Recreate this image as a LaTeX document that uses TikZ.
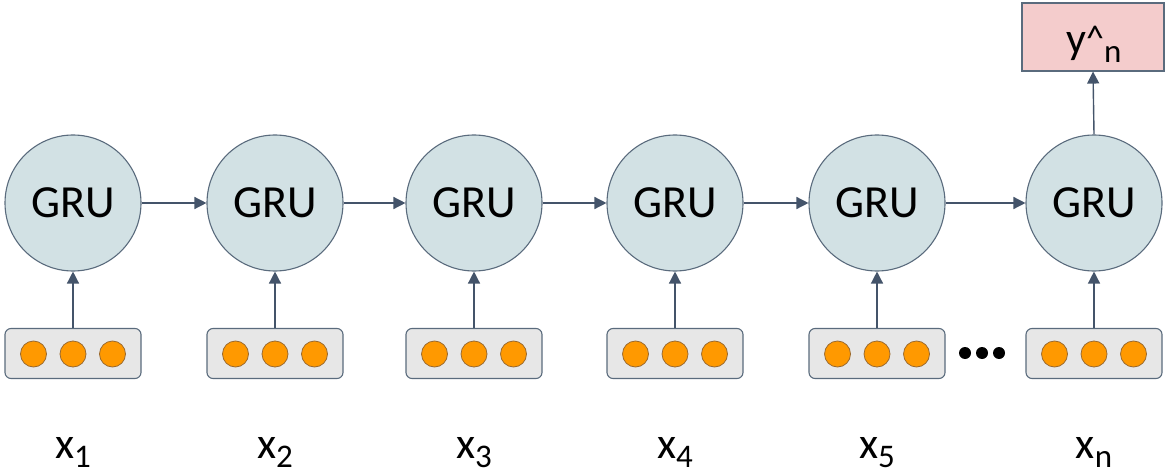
\documentclass[tikz,border=0pt]{standalone}
\usepackage{fontspec}
\setmainfont{Carlito}
\usetikzlibrary{arrows.meta}
\definecolor{edgec}{HTML}{5A6B7D}
\definecolor{arrc}{HTML}{44546A}
\definecolor{grufill}{HTML}{D2E1E4}
\definecolor{boxfill}{HTML}{E7E7E7}
\definecolor{dotfill}{HTML}{FF9900}
\definecolor{dotedge}{HTML}{9A6A30}
\definecolor{outfill}{HTML}{F4CCCC}
\tikzset{
  gru/.style={circle, draw=edgec, line width=1.1pt, fill=grufill, minimum size=136pt, inner sep=0pt, font=\fontsize{46}{46}\selectfont},
  inbox/.style={rectangle, rounded corners=6pt, draw=edgec, line width=1.1pt, fill=boxfill, minimum width=136pt, minimum height=50pt, inner sep=0pt},
  odot/.style={circle, draw=dotedge, line width=0.8pt, fill=dotfill, minimum size=26pt, inner sep=0pt},
  edot/.style={circle, fill=black, minimum size=12pt, inner sep=0pt},
  outbox/.style={rectangle, draw=edgec, line width=1.1pt, fill=outfill, minimum width=142pt, minimum height=68pt, inner sep=0pt},
  arr/.style={draw=arrc, line width=1.4pt, -{Triangle[length=12pt,width=12pt]}},
  lab/.style={anchor=base, inner sep=0pt, font=\fontsize{44}{44}\selectfont},
}
\newcommand{\subsc}[1]{\raisebox{-9pt}{\fontsize{33}{33}\selectfont #1}}
\begin{document}
\begin{tikzpicture}[x=1pt,y=-1pt]
\useasboundingbox (0,0) rectangle (1166,473);
% GRU cells
\foreach \i/\xx in {1/73,2/275,3/474,4/675,5/877,6/1094}{
  \node[gru] (g\i) at (\xx,203) {GRU};
  \node[inbox] (b\i) at (\xx,353.5) {};
  \node[odot] (d\i a) at (\xx-39.5,354) {};
  \node[odot] (d\i b) at (\xx,354) {};
  \node[odot] (d\i c) at (\xx+39.5,354) {};
  \draw[arr] (b\i.north) -- (g\i.south);
}
\foreach \i/\j in {1/2,2/3,3/4,4/5,5/6}{
  \draw[arr] (g\i.east) -- (g\j.west);
}
% ellipsis
\node[edot] (e1) at (965,353) {};
\node[edot] (e2) at (982,353) {};
\node[edot] (e3) at (999,353) {};
% output
\node[outbox] (yout) at (1093,37) {};
\node[anchor=base west, inner sep=0pt, font=\fontsize{44}{44}\selectfont] (ytext) at (1066,54) {y\raisebox{3pt}{\fontsize{36}{36}\selectfont\textasciicircum}\subsc{n}};
\draw[arr] (g6.north) -- (yout.south);
% labels
\node[lab] (x1) at (73,458) {x\subsc{1}};
\node[lab] (x2) at (275,458) {x\subsc{2}};
\node[lab] (x3) at (474,458) {x\subsc{3}};
\node[lab] (x4) at (675,458) {x\subsc{4}};
\node[lab] (x5) at (877,458) {x\subsc{5}};
\node[lab] (xn) at (1094,458) {x\subsc{n}};
\end{tikzpicture}
\end{document}
